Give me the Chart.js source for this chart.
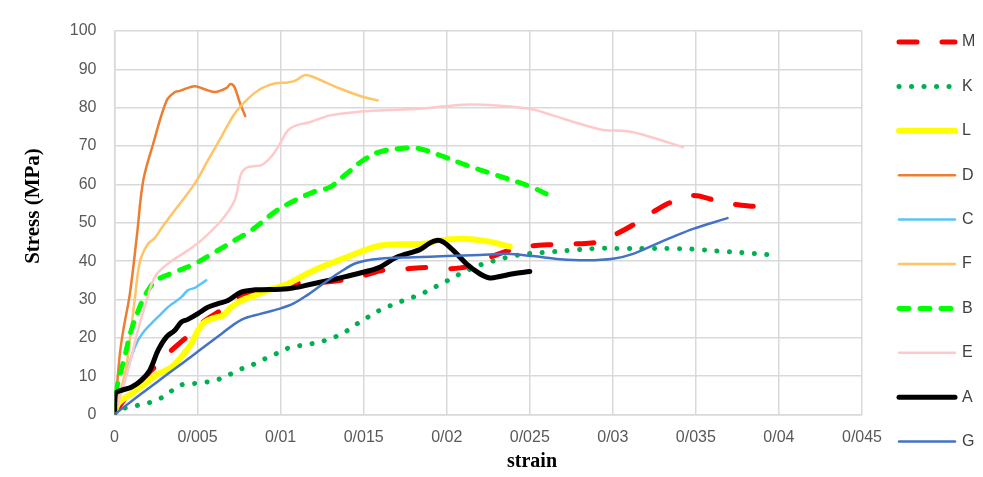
<!DOCTYPE html>
<html><head><meta charset="utf-8">
<script src="https://cdn.jsdelivr.net/npm/chart.js@4.4.1/dist/chart.umd.min.js"></script>
<style>html,body{margin:0;padding:0;background:#fff;}#wrap{width:983px;height:477px;}</style>
</head><body><div id="wrap"><canvas id="c" width="983" height="477"></canvas></div>
<script>
const seriesNames = ["M","K","L","D","C","F","B","E","A","G"];
const xTickLabels = ["0","0/005","0/01","0/015","0/02","0/025","0/03","0/035","0/04","0/045"];
const yTickLabels = ["0","10","20","30","40","50","60","70","80","90","100"];
const xTitle = "strain";
const yTitle = "Stress (MPa)";

const strainM = [0,0.0006,0.00152,0.00221,0.00342,0.00422,0.00532,0.00623,0.00743,0.00823,0.00996,0.01076,0.01256,0.01367,0.01497,0.01617,0.01758,0.01878,0.02019,0.02129,0.02259,0.0238,0.0252,0.0264,0.02771,0.02901,0.03022,0.03132,0.03242,0.03353,0.03483,0.03603,0.03734,0.03864];
const stressM = [0,4,8.4,11.5,16.7,19.7,24.1,26.7,30.2,31.6,33,34.1,34.5,35,36.2,37.6,38,38.3,38,38.6,41,42.8,44,44.3,44.5,44.9,47.1,49.7,52.8,55.4,57.1,56,54.8,54.2];

const strainK = [0,0.00051,0.00131,0.00202,0.00272,0.00332,0.00392,0.00462,0.00543,0.00613,0.00683,0.00753,0.00823,0.00883,0.00954,0.01024,0.01096,0.01166,0.01236,0.01307,0.01377,0.01437,0.01501,0.01563,0.01628,0.01698,0.01768,0.01838,0.01903,0.01969,0.02035,0.02099,0.02169,0.0224,0.02309,0.0238,0.0245,0.0253,0.026,0.02741,0.02901,0.03042,0.03192,0.03342,0.03493,0.03643,0.03783,0.03934];
const stressK = [0,1.5,2.3,3,4.1,5.8,7.6,8,8.4,9,10.2,11.7,12.8,14.1,15.4,17,17.8,18.3,18.9,19.9,21.2,23,24.7,26.4,27.8,29,30.2,31.2,32.7,34.1,35.6,37.1,38.4,39.6,40.3,41.2,41.7,42.1,42.3,42.8,43.3,43.3,43.3,43.3,43.1,42.6,42.2,41.7];

const strainL = [0,0.00021,0.00101,0.00182,0.00262,0.00342,0.00402,0.00462,0.00502,0.00543,0.00603,0.00653,0.00703,0.00763,0.00844,0.00924,0.01044,0.01196,0.01397,0.01557,0.01658,0.01858,0.01959,0.02099,0.0224,0.0238];
const stressL = [0,2.8,5.4,8,10.6,12.3,15,18.4,21.9,24.1,25.2,25.8,28,29.7,31,32.4,34.1,37.5,41,43.6,44.3,44.5,45.4,45.8,45.2,43.8];

const strainD = [0,0.0001,0.00033,0.00053,0.00093,0.00134,0.00173,0.00233,0.00314,0.00364,0.00392,0.00483,0.00543,0.00603,0.00673,0.00699,0.00723,0.00753,0.00787];
const stressD = [0,5,16,22,31.6,46.3,61,70.6,81.9,84.1,84.4,85.6,84.8,84.1,85.1,86.2,85.3,81.5,77.8];

const strainC = [0,0.00041,0.00101,0.00141,0.00182,0.00221,0.00282,0.00322,0.00362,0.00402,0.00442,0.00483,0.00522,0.00552];
const stressC = [0,6.3,15,19.3,21.9,23.7,26.3,28,29.3,30.6,32.4,33,34.1,35];

const strainF = [0,0.00069,0.00099,0.00122,0.00141,0.00161,0.00202,0.00242,0.00282,0.00362,0.00483,0.00563,0.00643,0.00723,0.00803,0.00883,0.00964,0.01044,0.01086,0.01146,0.01196,0.01357,0.01497,0.01584];
const stressF = [0,12,22,30,37,41,44.5,46,48.5,53.2,60.2,66.3,72.4,78.4,82.3,85,86.3,86.6,87,88.5,88,85,82.8,81.9];

const strainB = [0,0.00011,0.00061,0.00101,0.00161,0.00202,0.00252,0.00362,0.00483,0.00603,0.00723,0.00823,0.00964,0.01044,0.01196,0.01297,0.01397,0.01497,0.01597,0.01758,0.01838,0.01959,0.02119,0.023,0.025,0.0262];
const stressB = [0,6.3,15,22,29,32.4,35,37.1,39.3,42.3,45.4,48,52.8,54.9,58,59.3,62.8,66.3,68.5,69.5,69.3,67.6,65,62.4,59.5,57.1];

const strainE = [0,0.00081,0.00141,0.00182,0.00242,0.00322,0.00442,0.00522,0.00643,0.00723,0.00763,0.00803,0.00883,0.00943,0.00996,0.01044,0.01096,0.01176,0.01297,0.01457,0.01597,0.01838,0.02099,0.023,0.025,0.02638,0.02801,0.02941,0.03082,0.03202,0.03422];
const stressE = [0,11.5,22,28,35.8,39.3,42.8,45.4,50.6,55.8,62.8,64.5,65,67.2,70.6,74.1,75.4,76.2,78,78.9,79.3,79.7,80.8,80.6,79.7,78,75.8,74.2,73.9,72.7,69.7];

const strainA = [0,0.00005,0.00041,0.00101,0.00161,0.00212,0.00262,0.00312,0.00362,0.00402,0.00442,0.00502,0.00563,0.00623,0.00683,0.00763,0.00844,0.01044,0.01196,0.01297,0.01397,0.01497,0.01597,0.01698,0.01838,0.01898,0.01939,0.01978,0.02039,0.02119,0.02199,0.02259,0.02319,0.024,0.025];
const stressA = [0,5.4,6.3,7.1,8.9,11.5,16.7,20.2,21.9,24.1,24.8,26.3,28,28.9,29.7,31.9,32.5,32.8,34.1,35,36,37.1,38.4,41,43,44.7,45.4,45,42.8,39.3,36.7,35.6,36,36.7,37.3];

const strainG = [0,0.00161,0.00322,0.00483,0.00643,0.00763,0.00883,0.00996,0.01076,0.01156,0.01256,0.01357,0.01457,0.01597,0.01798,0.01999,0.02199,0.0236,0.0252,0.0268,0.02841,0.03001,0.03122,0.03242,0.03362,0.03483,0.0369];
const stressG = [0,5.4,10.6,15.8,21,24.7,26.3,27.6,28.9,31,34.1,37.1,39.5,40.6,41,41.3,41.6,41.9,41.3,40.5,40.2,40.6,41.9,44.1,46.3,48.4,51.2];

function pts(xs, ys){ return xs.map((x,i)=>({x:x, y:ys[i]})); }

const styles = {
  M:{c:"#FF0000", w:5, dash:[18,25], cap:"round"},
  K:{c:"#00B050", w:5, dash:[0.1,12.4], cap:"round"},
  L:{c:"#FFFF00", w:6, dash:[], cap:"round"},
  D:{c:"#ED7D31", w:2.5, dash:[], cap:"round"},
  C:{c:"#5BC3F7", w:2.5, dash:[], cap:"round"},
  F:{c:"#FFC466", w:2.5, dash:[], cap:"round"},
  B:{c:"#00FF00", w:5, dash:[10,11], cap:"round"},
  E:{c:"#FFC9C9", w:2.5, dash:[], cap:"round"},
  A:{c:"#000000", w:5, dash:[], cap:"round"},
  G:{c:"#4472C4", w:2.5, dash:[], cap:"round"}
};
const dataMap = {
  M:[strainM,stressM], K:[strainK,stressK], L:[strainL,stressL], D:[strainD,stressD], C:[strainC,stressC],
  F:[strainF,stressF], B:[strainB,stressB], E:[strainE,stressE], A:[strainA,stressA], G:[strainG,stressG]
};

const datasets = seriesNames.map((n, i) => ({
  label: n,
  data: pts(dataMap[n][0], dataMap[n][1]),
  borderColor: styles[n].c,
  backgroundColor: styles[n].c,
  borderWidth: styles[n].w,
  borderDash: styles[n].dash,
  borderCapStyle: styles[n].cap,
  borderJoinStyle: "round",
  pointRadius: 0,
  pointHoverRadius: 0,
  fill: false,
  tension: 0.35,
  order: seriesNames.length - 1 - i
}));

const overlay = {
  id: "overlay",
  afterDraw(chart) {
    const ctx = chart.ctx;
    ctx.save();
    // axis titles
    ctx.fillStyle = "#000";
    ctx.font = 'bold 21px "Liberation Serif"';
    ctx.textAlign = "center";
    ctx.textBaseline = "middle";
    ctx.save();
    ctx.translate(34, 206);
    ctx.rotate(-Math.PI / 2);
    ctx.fillText(yTitle, 0, 0);
    ctx.restore();
    ctx.font = 'bold 20px "Liberation Serif"';
    ctx.fillText(xTitle, 532, 462);
    // legend
    chart.data.datasets.forEach((ds, i) => {
      const y = 42 + i * 44.4;
      ctx.save();
      ctx.strokeStyle = ds.borderColor;
      ctx.lineWidth = ds.borderWidth;
      ctx.lineCap = ds.borderCapStyle;
      ctx.setLineDash(ds.borderDash);
      ctx.beginPath();
      ctx.moveTo(899, y);
      ctx.lineTo(955, y);
      ctx.stroke();
      ctx.restore();
      ctx.fillStyle = "#404040";
      ctx.font = '16px "Liberation Sans"';
      ctx.textAlign = "left";
      ctx.textBaseline = "middle";
      ctx.fillText(ds.label, 962, y);
    });
    ctx.restore();
  }
};

new Chart(document.getElementById("c"), {
  type: "line",
  data: { datasets: datasets },
  options: {
    responsive: false,
    animation: false,
    events: [],
    layout: { padding: { left: 0, right: 121, top: 31, bottom: 0 } },
    plugins: { legend: { display: false }, tooltip: { enabled: false }, title: { display: false } },
    scales: {
      x: {
        type: "linear", min: 0, max: 0.045,
        afterFit(s) { s.height = 62.5; },
        ticks: {
          stepSize: 0.005, autoSkip: false, maxRotation: 0, padding: 13,
          color: "#595959", font: { family: "Liberation Sans", size: 16 },
          callback: (v, i) => xTickLabels[i]
        },
        grid: { color: "#D9D9D9", lineWidth: 1.5, drawTicks: false },
        border: { color: "#D9D9D9", width: 1.5 }
      },
      y: {
        type: "linear", min: 0, max: 100,
        afterFit(s) { s.width = 114.5; },
        ticks: {
          stepSize: 10, padding: 18,
          color: "#595959", font: { family: "Liberation Sans", size: 16 },
          callback: (v, i) => yTickLabels[i]
        },
        grid: { color: "#D9D9D9", lineWidth: 1.5, drawTicks: false },
        border: { color: "#D9D9D9", width: 1.5 }
      }
    }
  },
  plugins: [overlay]
});
</script>
</body></html>
